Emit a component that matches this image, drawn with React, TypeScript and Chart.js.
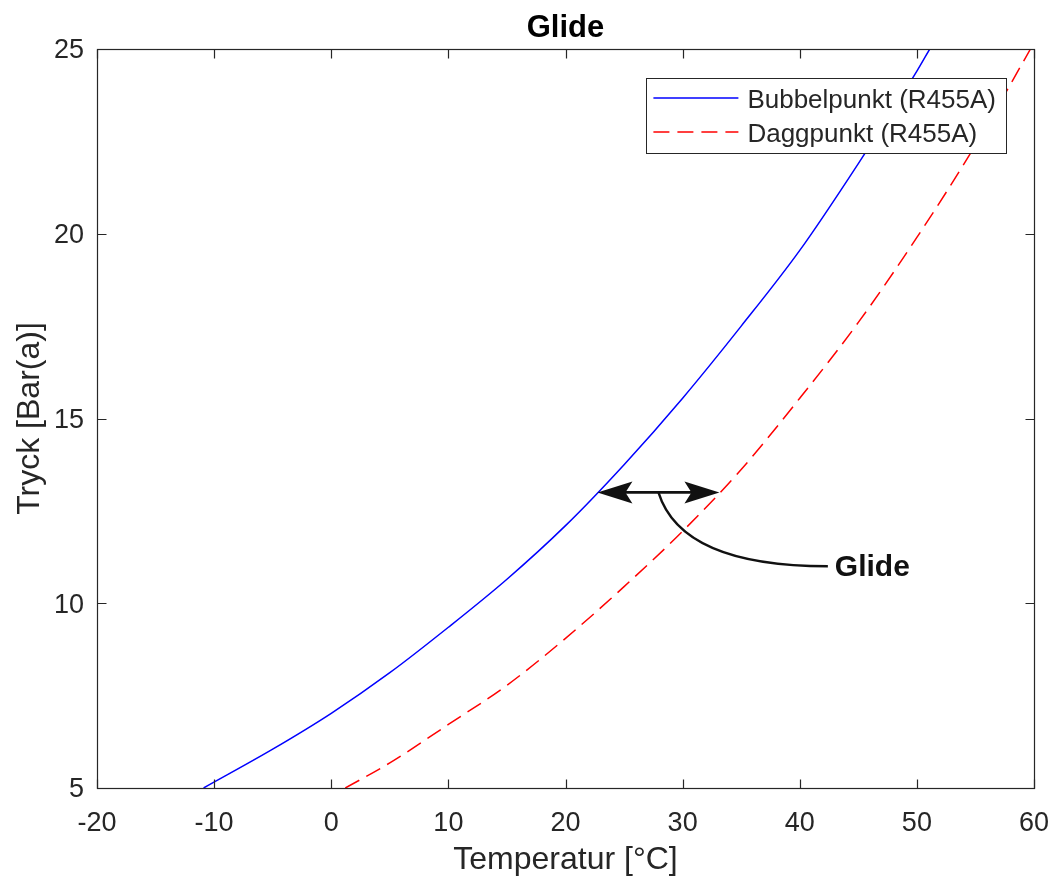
import { useEffect, useRef } from "react";
import { Chart, registerables } from "chart.js";

Chart.register(...registerables);

// Saturation curves for R455A: temperature [°C] and absolute pressure [bar]
const bubbleTemps = [-10.9, -5, 0, 5, 10, 15, 20, 25, 30, 35, 40, 45, 50, 51.1];
const bubblePressures = [5.0, 6.05, 7.02, 8.12, 9.35, 10.65, 12.1, 13.75, 15.55, 17.5, 19.55, 21.9, 24.4, 25.0];
const dewTemps = [1.2, 5, 10, 15, 20, 25, 30, 35, 40, 45, 50, 55, 59.7];
const dewPressures = [5.0, 5.68, 6.72, 7.78, 9.05, 10.45, 11.95, 13.62, 15.55, 17.6, 19.9, 22.4, 25.0];

const tempTicks = [-20, -10, 0, 10, 20, 30, 40, 50, 60];
const pressureTicks = [5, 10, 15, 20, 25];

// Pressure at which the glide is marked, and where its label sits
const glidePressure = 13;
const glideLabelPos = { x: 42.4, y: 11.0 };

const FONT = '"Liberation Sans", Arial, Helvetica, sans-serif';
const AXIS_COLOR = "#262626";

function crossingTemp(temps: number[], pressures: number[], p: number): number {
  for (let i = 1; i < temps.length; i++) {
    if (pressures[i] >= p) {
      const f = (p - pressures[i - 1]) / (pressures[i] - pressures[i - 1]);
      return temps[i - 1] + f * (temps[i] - temps[i - 1]);
    }
  }
  return temps[temps.length - 1];
}

// Box around the plot area with inward tick marks on all four sides
const framePlugin = {
  id: "frame",
  afterDraw(chart: any) {
    const { ctx, chartArea: a, scales } = chart;
    const tick = 9;
    ctx.save();
    ctx.strokeStyle = AXIS_COLOR;
    ctx.lineWidth = 1.2;
    ctx.setLineDash([]);
    ctx.strokeRect(a.left + 0.5, a.top + 0.5, a.right - a.left, a.bottom - a.top);
    ctx.beginPath();
    for (const t of scales.x.ticks) {
      const px = Math.round(scales.x.getPixelForValue(t.value)) + 0.5;
      ctx.moveTo(px, a.bottom + 0.5);
      ctx.lineTo(px, a.bottom + 0.5 - tick);
      ctx.moveTo(px, a.top + 0.5);
      ctx.lineTo(px, a.top + 0.5 + tick);
    }
    for (const t of scales.y.ticks) {
      const py = Math.round(scales.y.getPixelForValue(t.value)) + 0.5;
      ctx.moveTo(a.left + 0.5, py);
      ctx.lineTo(a.left + 0.5 + tick, py);
      ctx.moveTo(a.right + 0.5, py);
      ctx.lineTo(a.right + 0.5 - tick, py);
    }
    ctx.stroke();
    ctx.restore();
  },
};

function drawHead(ctx: CanvasRenderingContext2D, tipX: number, tipY: number, dir: number) {
  const len = 35;
  const half = 11;
  const notch = 7;
  ctx.beginPath();
  ctx.moveTo(tipX, tipY);
  ctx.lineTo(tipX + dir * len, tipY - half);
  ctx.lineTo(tipX + dir * (len - notch), tipY);
  ctx.lineTo(tipX + dir * len, tipY + half);
  ctx.closePath();
  ctx.fill();
}

// Double arrow between bubble and dew point plus the curved leader to the label
const glidePlugin = {
  id: "glideArrow",
  afterDatasetsDraw(chart: any) {
    const { ctx, scales } = chart;
    const { x, y } = scales;
    const t1 = crossingTemp(bubbleTemps, bubblePressures, glidePressure);
    const t2 = crossingTemp(dewTemps, dewPressures, glidePressure);
    const x1 = x.getPixelForValue(t1);
    const x2 = x.getPixelForValue(t2);
    const yy = y.getPixelForValue(glidePressure);
    ctx.save();
    ctx.setLineDash([]);
    ctx.strokeStyle = "#111111";
    ctx.fillStyle = "#111111";
    ctx.lineWidth = 2.7;
    ctx.beginPath();
    ctx.moveTo(x1 + 25, yy);
    ctx.lineTo(x2 - 25, yy);
    ctx.stroke();
    drawHead(ctx, x1, yy, 1);
    drawHead(ctx, x2, yy, -1);

    const mx = (x1 + x2) / 2;
    const lx = x.getPixelForValue(glideLabelPos.x);
    const ly = y.getPixelForValue(glideLabelPos.y);
    ctx.lineWidth = 2.4;
    ctx.beginPath();
    ctx.moveTo(mx, yy);
    ctx.quadraticCurveTo(mx + 23, ly, lx, ly);
    ctx.stroke();

    ctx.font = `bold 30px ${FONT}`;
    ctx.textAlign = "left";
    ctx.textBaseline = "middle";
    ctx.fillText("Glide", lx + 7, ly + 1);
    ctx.restore();
  },
};

// Boxed legend inside the upper right corner of the plot area
const boxLegendPlugin = {
  id: "boxLegend",
  afterDraw(chart: any) {
    const { ctx, chartArea: a } = chart;
    const sets = chart.data.datasets;
    ctx.save();
    ctx.font = `26px ${FONT}`;
    const textW = Math.max(...sets.map((d: any) => ctx.measureText(d.label).width));
    const sample = 85;
    const w = 7 + sample + 9 + textW + 10;
    const h = 75;
    const right = a.right - 28;
    const left = right - w;
    const top = a.top + 29;
    ctx.fillStyle = "#ffffff";
    ctx.fillRect(left, top, w, h);
    ctx.strokeStyle = AXIS_COLOR;
    ctx.lineWidth = 1;
    ctx.setLineDash([]);
    ctx.strokeRect(Math.round(left) + 0.5, top + 0.5, Math.round(w), h);
    sets.forEach((d: any, i: number) => {
      const cy = top + 20 + i * 34;
      ctx.strokeStyle = d.borderColor;
      ctx.lineWidth = d.borderWidth;
      ctx.setLineDash(d.borderDash || []);
      ctx.beginPath();
      ctx.moveTo(left + 7, cy);
      ctx.lineTo(left + 7 + sample, cy);
      ctx.stroke();
      ctx.setLineDash([]);
      ctx.fillStyle = AXIS_COLOR;
      ctx.textAlign = "left";
      ctx.textBaseline = "middle";
      ctx.fillText(d.label, left + 7 + sample + 9, cy + 3);
    });
    ctx.restore();
  },
};

export default function App() {
  const ref = useRef<HTMLCanvasElement>(null);

  useEffect(() => {
    const canvas = ref.current;
    if (!canvas) return;
    Chart.defaults.font.family = FONT;
    Chart.defaults.color = AXIS_COLOR;

    const chart = new Chart(canvas, {
      type: "line",
      data: {
        datasets: [
          {
            label: "Bubbelpunkt (R455A)",
            data: bubbleTemps.map((t, i) => ({ x: t, y: bubblePressures[i] })),
            borderColor: "#0000ff",
            borderWidth: 1.5,
            pointRadius: 0,
            cubicInterpolationMode: "monotone",
            fill: false,
          },
          {
            label: "Daggpunkt (R455A)",
            data: dewTemps.map((t, i) => ({ x: t, y: dewPressures[i] })),
            borderColor: "#ff0000",
            borderWidth: 1.5,
            borderDash: [16, 8],
            pointRadius: 0,
            cubicInterpolationMode: "monotone",
            fill: false,
          },
        ],
      },
      options: {
        animation: false,
        responsive: false,
        devicePixelRatio: 1,
        events: [],
        layout: { padding: { top: 0, right: 20, bottom: 0, left: 0 } },
        plugins: {
          legend: { display: false },
          tooltip: { enabled: false },
          title: {
            display: true,
            text: "Glide",
            fullSize: false,
            color: "#000000",
            font: { size: 31, weight: "bold", family: FONT },
            padding: { top: 10, bottom: 1.8 },
          },
        },
        scales: {
          x: {
            type: "linear",
            min: -20,
            max: 60,
            afterBuildTicks: (axis: any) => {
              axis.ticks = tempTicks.map((v) => ({ value: v }));
            },
            afterFit: (scale: any) => {
              scale.height = 92;
              scale.paddingLeft = 0;
              scale.paddingRight = 0;
            },
            grid: { display: false, drawTicks: false },
            border: { display: false },
            ticks: {
              font: { size: 27, family: FONT },
              color: AXIS_COLOR,
              padding: 19,
              maxRotation: 0,
              autoSkip: false,
            },
            title: {
              display: true,
              text: "Temperatur [°C]",
              color: AXIS_COLOR,
              font: { size: 32, family: FONT },
              padding: { top: 0, bottom: 1 },
            },
          },
          y: {
            type: "linear",
            min: 5,
            max: 25,
            afterBuildTicks: (axis: any) => {
              axis.ticks = pressureTicks.map((v) => ({ value: v }));
            },
            afterFit: (scale: any) => {
              scale.width = 97;
              scale.paddingTop = 0;
              scale.paddingBottom = 0;
            },
            grid: { display: false, drawTicks: false },
            border: { display: false },
            ticks: {
              font: { size: 27, family: FONT },
              color: AXIS_COLOR,
              padding: 13,
              labelOffset: 2,
              autoSkip: false,
            },
            title: {
              display: true,
              text: "Tryck [Bar(a)]",
              color: AXIS_COLOR,
              font: { size: 32, family: FONT },
              padding: { top: 11, bottom: 0 },
            },
          },
        },
      },
      plugins: [glidePlugin, framePlugin, boxLegendPlugin],
    } as any);

    return () => chart.destroy();
  }, []);

  return (
    <div
      style={{
        position: "absolute",
        left: 0,
        top: 0,
        width: 1054,
        height: 880,
        background: "#ffffff",
      }}
    >
      <canvas ref={ref} width={1054} height={880} style={{ display: "block", width: 1054, height: 880 }} />
    </div>
  );
}
